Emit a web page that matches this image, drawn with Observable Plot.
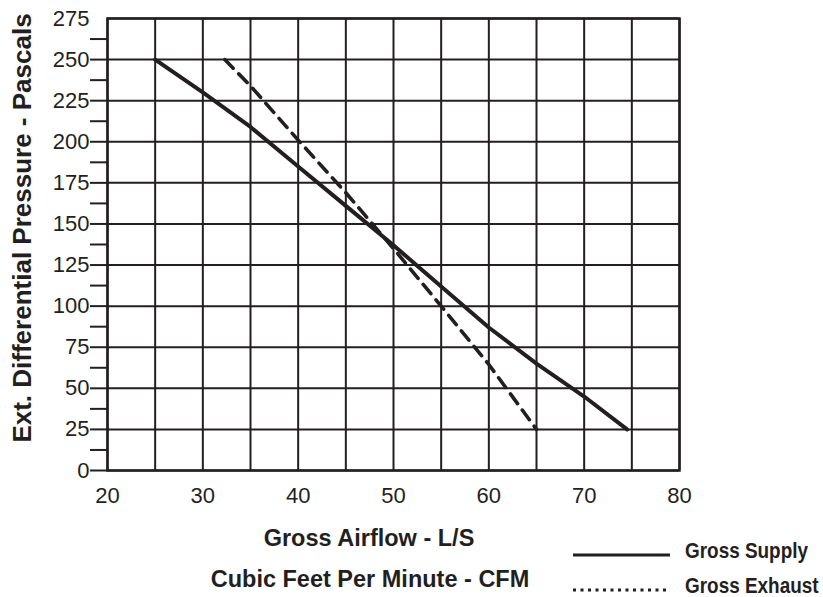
<!DOCTYPE html>
<html><head><meta charset="utf-8">
<script src="https://cdn.jsdelivr.net/npm/d3@7"></script>
<script src="https://cdn.jsdelivr.net/npm/@observablehq/plot@0.6"></script>
<style>
body{margin:0;background:#fff;}
#wrap{position:relative;width:823px;height:597px;font-family:"Liberation Sans",Arial,Helvetica,sans-serif;color:#231f20;overflow:hidden;}
.t{position:absolute;white-space:nowrap;font-weight:bold;line-height:1;}
#wrap svg{display:block;}
</style></head><body><div id="wrap"></div>
<script>
// Data (x: Gross Airflow, y: Ext. Differential Pressure - Pascals)
const supplyX = [25, 30, 35, 40, 45, 50, 55, 60, 65, 70, 74.5];
const supplyY = [250, 230, 209, 185, 161, 137, 112, 87, 65, 45, 25];
const exhaustX = [32.3, 35, 40, 45, 50, 55, 60, 65];
const exhaustY = [250, 234, 201, 169, 135, 100, 64.5, 25];

// Tick labels and grid values
const xTicks = [20, 30, 40, 50, 60, 70, 80];
const xGrid = [20, 25, 30, 35, 40, 45, 50, 55, 60, 65, 70, 75, 80];
const yTicks = [0, 25, 50, 75, 100, 125, 150, 175, 200, 225, 250, 275];
const yGrid = [0, 25, 50, 75, 100, 125, 150, 175, 200, 225, 250, 275];
const yTickMarks = [0, 12.5, 25, 37.5, 50, 62.5, 75, 87.5, 100, 112.5, 125, 137.5, 150, 162.5, 175, 187.5, 200, 212.5, 225, 237.5, 250, 262.5];

const seriesNames = ["Gross Supply", "Gross Exhaust"];
const xTitle = "Gross Airflow - L/S";
const xTitle2 = "Cubic Feet Per Minute - CFM";
const yTitle = "Ext. Differential Pressure - Pascals";

const supply = supplyX.map((x, i) => ({x, y: supplyY[i]}));
const exhaust = exhaustX.map((x, i) => ({x, y: exhaustY[i]}));
const ink = "#231f20";

const chart = Plot.plot({
  width: 823,
  height: 520,
  marginLeft: 107,
  marginRight: 144,
  marginTop: 18,
  marginBottom: 50,
  x: {domain: [20, 80]},
  y: {domain: [0, 275]},
  style: {fontSize: "22px", fontFamily: "'Liberation Sans', Arial, Helvetica, sans-serif", color: ink, background: "white", overflow: "visible"},
  marks: [
    Plot.gridX(xGrid, {stroke: ink, strokeOpacity: 1, strokeWidth: 2}),
    Plot.gridY(yGrid, {stroke: ink, strokeOpacity: 1, strokeWidth: 2}),
    Plot.axisY(yTickMarks, {tickSize: 17, text: null, label: null, strokeWidth: 2}),
    Plot.axisY(yTicks, {tickSize: 0, tickPadding: 18, label: null}),
    Plot.axisX(xTicks, {tickSize: 0, tickPadding: 17, label: null}),
    Plot.frame({stroke: ink, strokeWidth: 2.5}),
    Plot.line(supply, {x: "x", y: "y", stroke: ink, strokeWidth: 4}),
    Plot.line(exhaust, {x: "x", y: "y", stroke: ink, strokeWidth: 3.6, strokeDasharray: "12,8"})
  ]
});

const wrap = document.getElementById("wrap");
wrap.appendChild(chart);

function addText(txt, css) {
  const d = document.createElement("div");
  d.className = "t";
  d.textContent = txt;
  Object.assign(d.style, css);
  wrap.appendChild(d);
  return d;
}
// y title (rotated)
addText(yTitle, {left: "22px", top: "228px", fontSize: "26px", transform: "translate(-50%,-50%) rotate(-90deg)"});
// x titles
addText(xTitle, {left: "369px", top: "527px", fontSize: "23.5px", transform: "translateX(-50%)"});
addText(xTitle2, {left: "370px", top: "568px", fontSize: "23.5px", transform: "translateX(-50%)"});

// legend
const ns = "http://www.w3.org/2000/svg";
const lg = document.createElementNS(ns, "svg");
lg.setAttribute("width", "110");
lg.setAttribute("height", "50");
Object.assign(lg.style, {position: "absolute", left: "568px", top: "545px"});
const l1 = document.createElementNS(ns, "line");
l1.setAttribute("x1", 5); l1.setAttribute("x2", 102); l1.setAttribute("y1", 10); l1.setAttribute("y2", 10);
l1.setAttribute("stroke", ink); l1.setAttribute("stroke-width", 3);
const l2 = document.createElementNS(ns, "line");
l2.setAttribute("x1", 5); l2.setAttribute("x2", 102); l2.setAttribute("y1", 45); l2.setAttribute("y2", 45);
l2.setAttribute("stroke", ink); l2.setAttribute("stroke-width", 3); l2.setAttribute("stroke-dasharray", "3,4.5");
lg.appendChild(l1); lg.appendChild(l2);
wrap.appendChild(lg);
addText(seriesNames[0], {left: "685px", top: "540px", fontSize: "22px", transform: "scaleX(0.86)", transformOrigin: "left center"});
addText(seriesNames[1], {left: "685px", top: "575px", fontSize: "22px", transform: "scaleX(0.86)", transformOrigin: "left center"});
</script>
</body></html>
